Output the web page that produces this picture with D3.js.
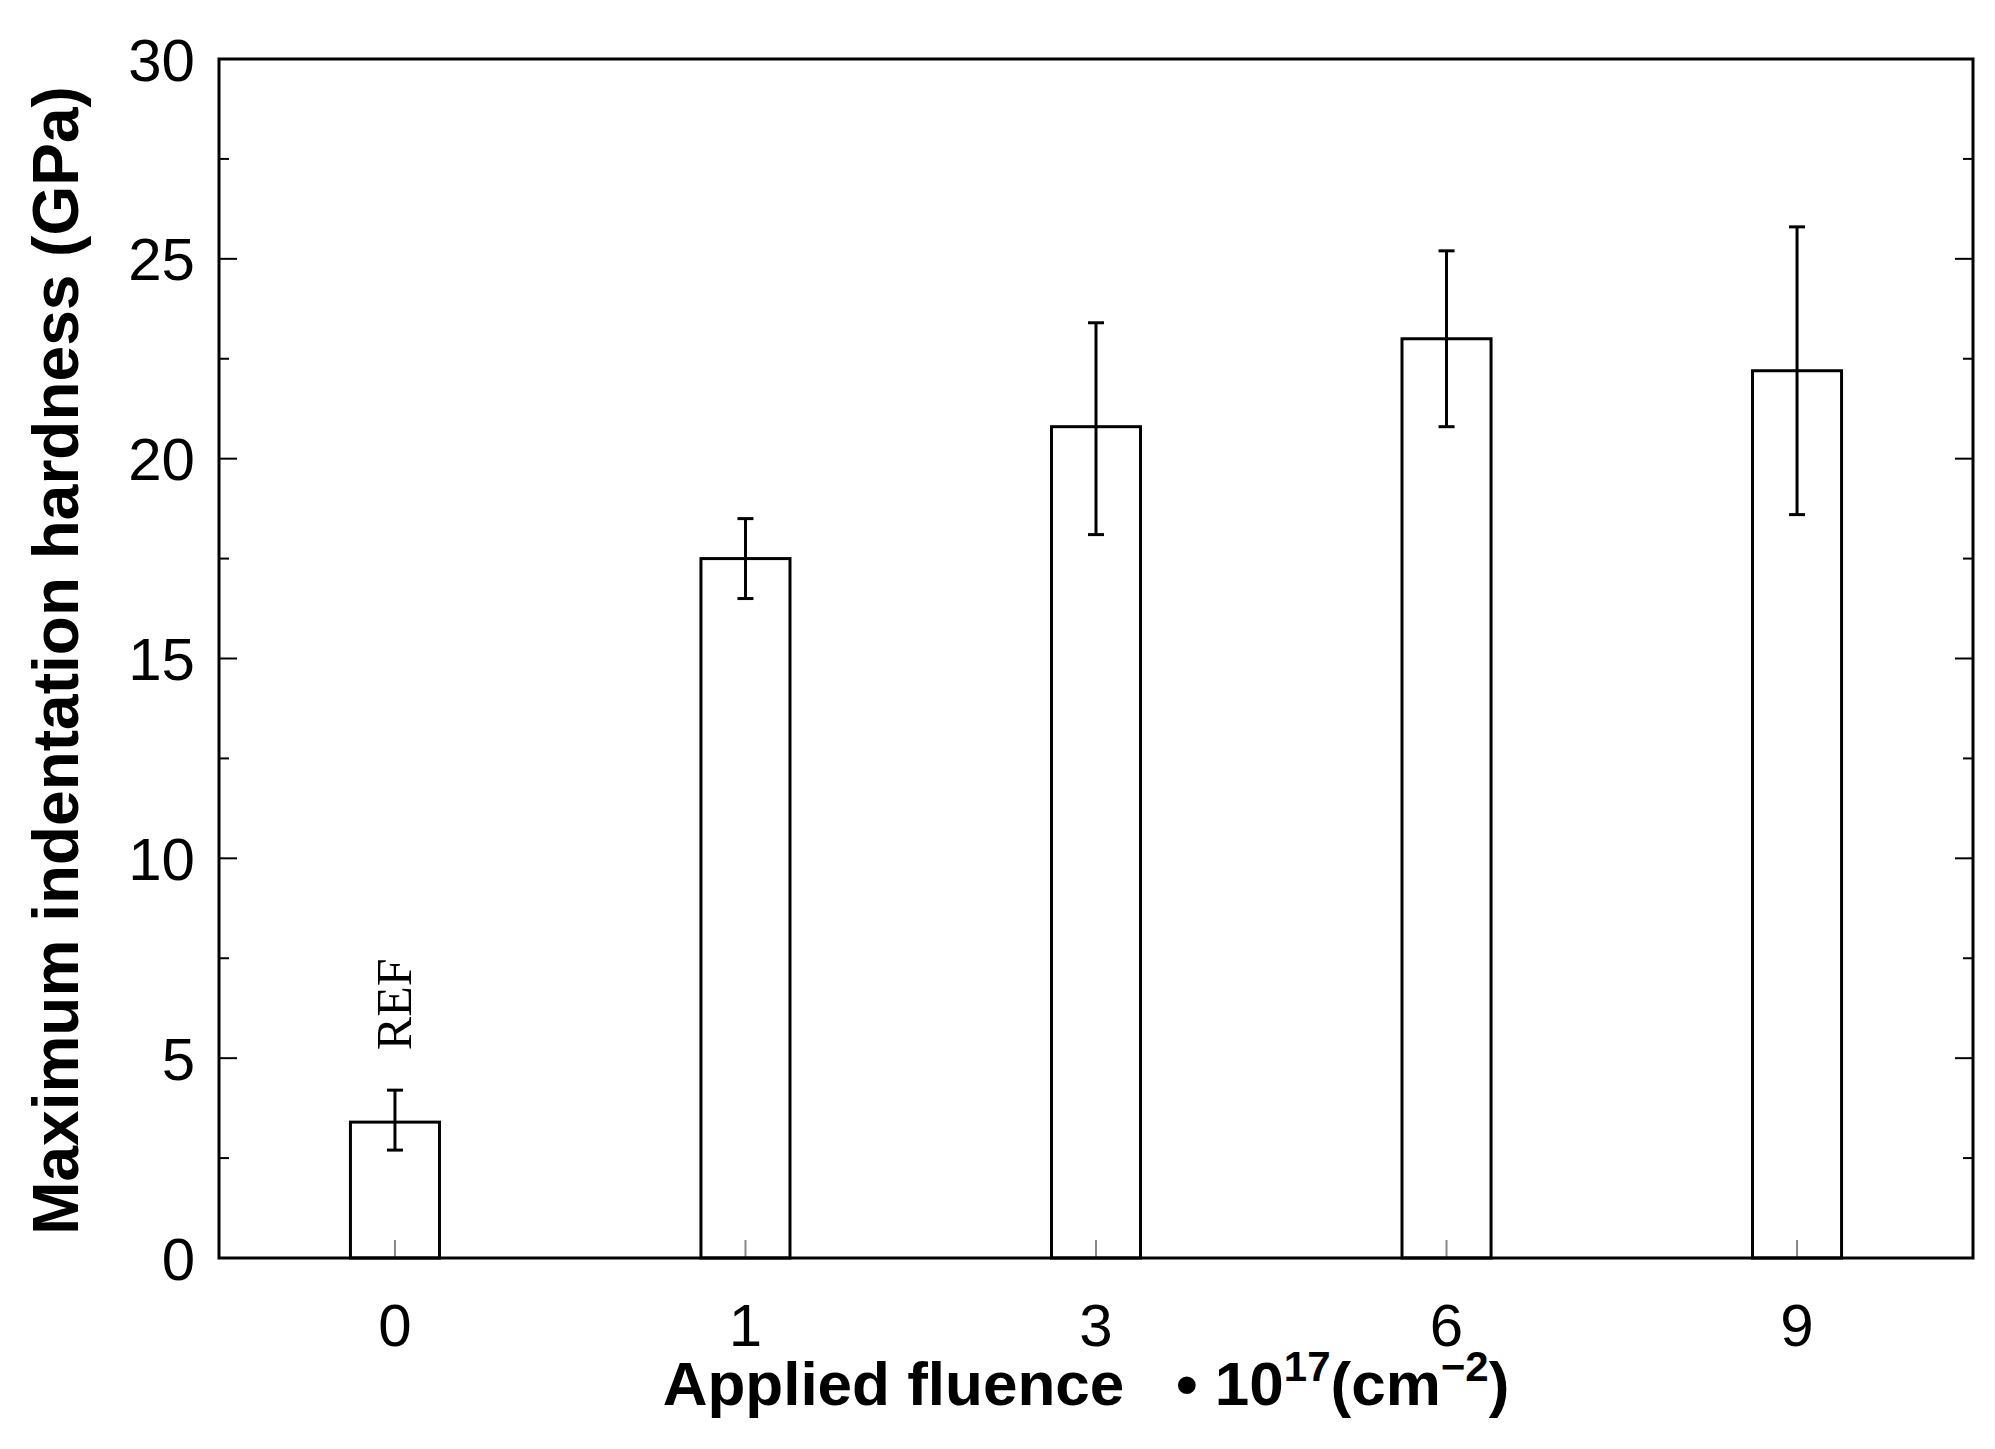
<!DOCTYPE html>
<html lang="en">
<head>
<meta charset="UTF-8">
<title></title>
<script src="https://d3js.org/d3.v7.min.js"></script>
<style>body{margin:0;background:#fff;} text{fill:#000;}</style>
</head>
<body>
<script>
var W = 1995, H = 1449;
var margin = {left: 219, right: 22, top: 59, bottom: 191};

var categories = ["0", "1", "3", "6", "9"];
var hardness = [3.4, 17.5, 20.8, 23.0, 22.2];
var errLow = [2.7, 16.5, 18.1, 20.8, 18.6];
var errHigh = [4.2, 18.5, 23.4, 25.2, 25.8];
var yTicks = [0, 5, 10, 15, 20, 25, 30];
var yMinor = [2.5, 7.5, 12.5, 17.5, 22.5, 27.5];

var svg = d3.select("body").append("svg").attr("width", W).attr("height", H);

var x = d3.scaleBand().domain(categories)
    .range([margin.left, W - margin.right])
    .paddingInner(0.746).paddingOuter(0.375);
var y = d3.scaleLinear().domain([0, 30]).range([H - margin.bottom, margin.top]);

var xl = margin.left, xr = W - margin.right, yb = H - margin.bottom, yt = margin.top;

// ticks (inward, both sides)
var g = svg.append("g").attr("stroke", "#000").attr("stroke-width", 2);
yTicks.concat(yMinor).forEach(function(v) {
    var len = yTicks.indexOf(v) >= 0 ? 18 : 10;
    g.append("line").attr("x1", xl).attr("x2", xl + len).attr("y1", y(v)).attr("y2", y(v));
    g.append("line").attr("x1", xr).attr("x2", xr - len).attr("y1", y(v)).attr("y2", y(v));
});

// bars
svg.selectAll("rect.bar").data(hardness).enter().append("rect")
    .attr("x", function(d, i) { return x(categories[i]); })
    .attr("width", x.bandwidth())
    .attr("y", function(d) { return y(d); })
    .attr("height", function(d) { return y(0) - y(d); })
    .attr("fill", "none").attr("stroke", "#000").attr("stroke-width", 3);

// x ticks inside bars
categories.forEach(function(c) {
    var cx = x(c) + x.bandwidth() / 2;
    g.append("line").attr("x1", cx).attr("x2", cx).attr("y1", yb).attr("y2", yb - 18).attr("stroke", "#888");
});

// error bars
var eg = svg.append("g").attr("stroke", "#000").attr("stroke-width", 3);
hardness.forEach(function(d, i) {
    var cx = x(categories[i]) + x.bandwidth() / 2;
    eg.append("line").attr("x1", cx).attr("x2", cx).attr("y1", y(errLow[i])).attr("y2", y(errHigh[i]));
    [errLow[i], errHigh[i]].forEach(function(v) {
        eg.append("line").attr("x1", cx - 8).attr("x2", cx + 8).attr("y1", y(v)).attr("y2", y(v));
    });
});

// frame
svg.append("rect").attr("x", xl).attr("y", yt).attr("width", xr - xl).attr("height", yb - yt)
    .attr("fill", "none").attr("stroke", "#000").attr("stroke-width", 3);

// tick labels
svg.selectAll("text.yl").data(yTicks).enter().append("text")
    .attr("x", xl - 24).attr("y", function(d) { return y(d); }).attr("dy", "0.36em")
    .attr("text-anchor", "end").attr("font-family", "Liberation Sans, Arial").attr("font-size", 60)
    .text(function(d) { return d; });
svg.selectAll("text.xl").data(categories).enter().append("text")
    .attr("x", function(d) { return x(d) + x.bandwidth() / 2; }).attr("y", yb + 88)
    .attr("text-anchor", "middle").attr("font-family", "Liberation Sans, Arial").attr("font-size", 60)
    .text(function(d) { return d; });

// REF label
var cx0 = x(categories[0]) + x.bandwidth() / 2;
svg.append("text").attr("transform", "translate(" + (cx0 + 16) + "," + y(5.2) + ") rotate(-90)")
    .attr("font-family", "Liberation Serif, Times New Roman").attr("font-size", 50)
    .text("REF");

// axis titles
var xt = svg.append("text").attr("x", (xl + xr) / 2 - 10).attr("y", H - 44)
    .attr("text-anchor", "middle").attr("font-family", "Liberation Sans, Arial")
    .attr("font-weight", "bold").attr("font-size", 62).style("white-space", "pre");
xt.append("tspan").text("Applied fluence   \u2022 10");
xt.append("tspan").attr("dy", -24).attr("font-size", 42).text("17");
xt.append("tspan").attr("dy", 24).text("(cm");
xt.append("tspan").attr("dy", -24).attr("font-size", 42).text("\u22122");
xt.append("tspan").attr("dy", 24).text(")");

svg.append("text").attr("transform", "translate(78," + ((yt + yb) / 2 + 2) + ") rotate(-90)")
    .attr("text-anchor", "middle").attr("font-family", "Liberation Sans, Arial")
    .attr("font-weight", "bold").attr("font-size", 64)
    .text("Maximum indentation hardness (GPa)");
</script>
</body>
</html>
